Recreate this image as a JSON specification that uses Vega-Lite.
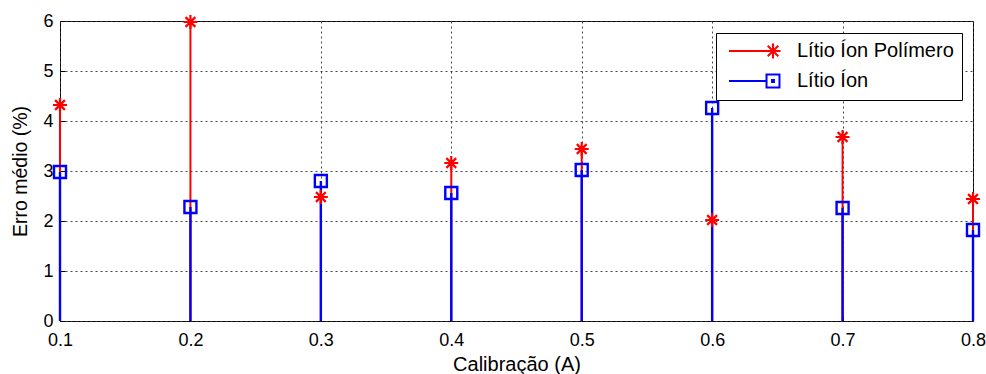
{
  "$schema": "https://vega.github.io/schema/vega-lite/v6.json",
  "width": 913,
  "height": 300,
  "autosize": {"type": "none"},
  "padding": {"left": 60, "top": 21, "right": 13, "bottom": 53},
  "background": "white",
  "config": {
    "font": "Liberation Sans",
    "view": {"stroke": "black", "strokeWidth": 1},
    "axis": {
      "domain": false,
      "labelColor": "black",
      "titleColor": "black",
      "tickColor": "black",
      "gridColor": "#333333",
      "gridDash": [2, 3],
      "gridWidth": 1,
      "gridOpacity": 0.9,
      "labelFontSize": 18,
      "titleFontSize": 19.5,
      "titleFontWeight": "normal",
      "labelFlush": false,
      "tickSize": -5
    }
  },
  "data": {
    "values": [
      {"x": 0.1, "series": "Lítio Íon Polímero", "value": 4.32},
      {"x": 0.2, "series": "Lítio Íon Polímero", "value": 5.98},
      {"x": 0.3, "series": "Lítio Íon Polímero", "value": 2.48},
      {"x": 0.4, "series": "Lítio Íon Polímero", "value": 3.16},
      {"x": 0.5, "series": "Lítio Íon Polímero", "value": 3.44},
      {"x": 0.6, "series": "Lítio Íon Polímero", "value": 2.02},
      {"x": 0.7, "series": "Lítio Íon Polímero", "value": 3.68},
      {"x": 0.8, "series": "Lítio Íon Polímero", "value": 2.44},
      {"x": 0.1, "series": "Lítio Íon", "value": 2.98},
      {"x": 0.2, "series": "Lítio Íon", "value": 2.28},
      {"x": 0.3, "series": "Lítio Íon", "value": 2.8},
      {"x": 0.4, "series": "Lítio Íon", "value": 2.56},
      {"x": 0.5, "series": "Lítio Íon", "value": 3.02},
      {"x": 0.6, "series": "Lítio Íon", "value": 4.26},
      {"x": 0.7, "series": "Lítio Íon", "value": 2.26},
      {"x": 0.8, "series": "Lítio Íon", "value": 1.82}
    ]
  },
  "layer": [
    {
      "transform": [{"filter": "datum.series === 'Lítio Íon Polímero'"}],
      "mark": {"type": "rule", "color": "#ff0000", "strokeWidth": 2},
      "encoding": {
        "x": {
          "field": "x", "type": "quantitative",
          "scale": {"domain": [0.1, 0.8], "nice": false, "zero": false},
          "axis": {
            "orient": "bottom",
            "values": [0.1, 0.2, 0.3, 0.4, 0.5, 0.6, 0.7, 0.8],
            "format": ".1f",
            "grid": true,
            "labelPadding": 15,
            "title": "Calibração (A)",
            "titleFontSize": 20,
            "titlePadding": 5
          }
        },
        "y": {
          "field": "value", "type": "quantitative",
          "scale": {"domain": [0, 6], "nice": false},
          "axis": {
            "orient": "left",
            "values": [0, 1, 2, 3, 4, 5, 6],
            "grid": true,
            "labelPadding": 12,
            "title": "Erro médio (%)",
            "titlePadding": 12
          }
        },
        "y2": {"datum": 0}
      }
    },
    {
      "transform": [{"filter": "datum.series === 'Lítio Íon'"}],
      "mark": {"type": "rule", "color": "#0000ff", "strokeWidth": 2.4},
      "encoding": {
        "x": {"field": "x", "type": "quantitative"},
        "y": {"field": "value", "type": "quantitative"},
        "y2": {"datum": 0}
      }
    },
    {
      "transform": [{"filter": "datum.series === 'Lítio Íon Polímero'"}],
      "mark": {
        "type": "point",
        "filled": false,
        "opacity": 1,
        "color": "#ff0000",
        "strokeWidth": 2.2,
        "size": 196,
        "shape": "M-1,0L1,0M0,-1L0,1M-0.7,-0.7L0.7,0.7M-0.7,0.7L0.7,-0.7"
      },
      "encoding": {
        "x": {"field": "x", "type": "quantitative"},
        "y": {"field": "value", "type": "quantitative"}
      }
    },
    {
      "transform": [{"filter": "datum.series === 'Lítio Íon'"}],
      "mark": {
        "type": "point",
        "filled": false,
        "opacity": 1,
        "color": "#0000ff",
        "strokeWidth": 2.4,
        "size": 144,
        "shape": "square"
      },
      "encoding": {
        "x": {"field": "x", "type": "quantitative"},
        "y": {"field": "value", "type": "quantitative"}
      }
    },
    {
      "transform": [{"filter": "datum.value < 0"}],
      "mark": {"type": "point", "filled": false, "opacity": 1, "strokeWidth": 2},
      "encoding": {
        "x": {"field": "x", "type": "quantitative"},
        "y": {"field": "value", "type": "quantitative"},
        "color": {
          "field": "series", "type": "nominal",
          "scale": {"domain": ["Lítio Íon Polímero", "Lítio Íon"], "range": ["#ff0000", "#0000ff"]},
          "legend": {
            "orient": "none",
            "legendX": 656,
            "legendY": 12,
            "title": null,
            "padding": 8,
            "fillColor": "white",
            "strokeColor": "black",
            "symbolSize": 256,
            "symbolStrokeWidth": 2,
            "symbolOffset": 39,
            "labelFontSize": 20,
            "labelColor": "black",
            "labelOffset": 14,
            "rowPadding": 7
          }
        },
        "shape": {
          "field": "series", "type": "nominal",
          "scale": {
            "domain": ["Lítio Íon Polímero", "Lítio Íon"],
            "range": [
              "M-5.5,0L0,0M-0.94,0L0.94,0M0,-0.94L0,0.94M-0.66,-0.66L0.66,0.66M-0.66,0.66L0.66,-0.66",
              "M-5.5,0L-0.81,0M-0.81,-0.81L0.81,-0.81L0.81,0.81L-0.81,0.81ZM-0.12,-0.12L0.12,-0.12L0.12,0.12L-0.12,0.12Z"
            ]
          },
          "legend": {
            "orient": "none",
            "legendX": 656,
            "legendY": 12,
            "title": null,
            "padding": 8,
            "fillColor": "white",
            "strokeColor": "black",
            "symbolSize": 256,
            "symbolStrokeWidth": 2,
            "symbolOffset": 39,
            "labelFontSize": 20,
            "labelColor": "black",
            "labelOffset": 14,
            "rowPadding": 7
          }
        }
      }
    }
  ]
}
